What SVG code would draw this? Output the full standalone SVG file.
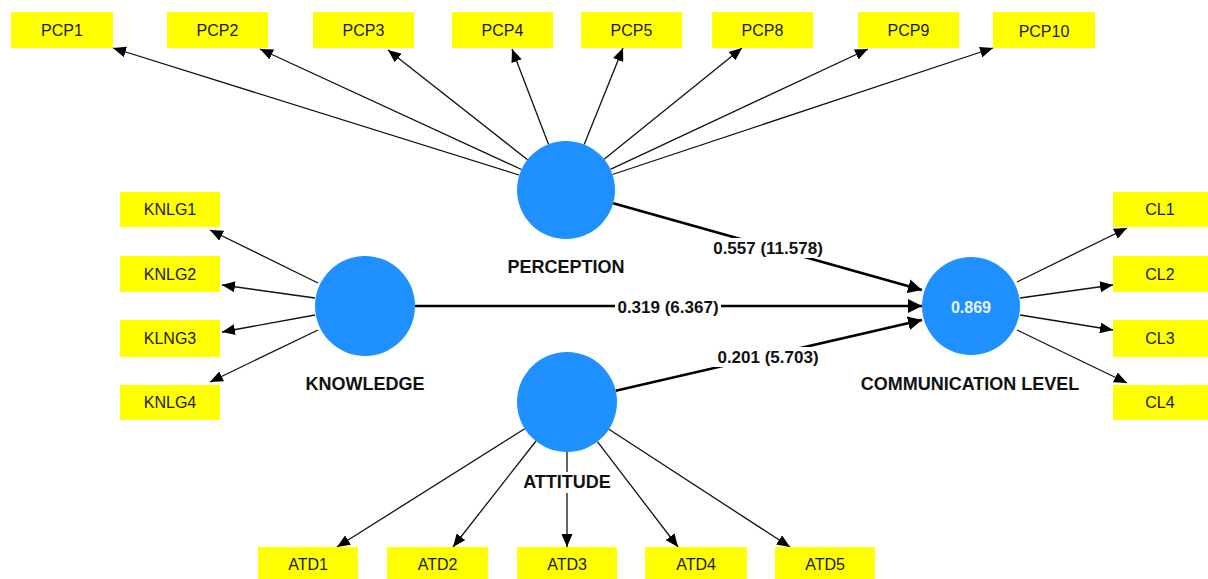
<svg xmlns="http://www.w3.org/2000/svg" width="1208" height="579" viewBox="0 0 1208 579">
<style>
.box{fill:#ffff00}
.bt{font-family:"Liberation Sans",Arial,sans-serif;font-size:16px;fill:#1a1a1a;text-anchor:middle;dominant-baseline:central}
.lv{fill:#1e90ff}
.lt{font-family:"Liberation Sans",Arial,sans-serif;font-size:18px;font-weight:bold;fill:#111;text-anchor:middle;dominant-baseline:central}
.thin{stroke:#111;stroke-width:1.3;fill:none;marker-end:url(#ah)}
.thick{stroke:#000;stroke-width:2.6;fill:none;marker-end:url(#ahb)}
.pl{font-family:"Liberation Sans",Arial,sans-serif;font-size:17px;font-weight:bold;fill:#111;text-anchor:middle;dominant-baseline:central}
.bg{fill:#fff}
</style>
<defs>
<marker id="ah" viewBox="0 0 13 11" refX="13" refY="5.5" markerWidth="13" markerHeight="11" markerUnits="userSpaceOnUse" orient="auto"><path d="M0,0 L13,5.5 L0,11 Z" fill="#000"/></marker>
<marker id="ahb" viewBox="0 0 14 14" refX="14" refY="7" markerWidth="14" markerHeight="14" markerUnits="userSpaceOnUse" orient="auto"><path d="M0,0 L14,7 L0,14 Z" fill="#000"/></marker>
</defs>
<rect width="1208" height="579" fill="#fff"/>
<g id="connectors">
<line class="thin" x1="519" y1="175" x2="113" y2="48"/>
<line class="thin" x1="521.5" y1="169.5" x2="260" y2="49"/>
<line class="thin" x1="527.5" y1="159.7" x2="388" y2="50"/>
<line class="thin" x1="548.5" y1="144.2" x2="512" y2="49"/>
<line class="thin" x1="584.2" y1="144.5" x2="623" y2="48"/>
<line class="thin" x1="604.1" y1="159.2" x2="742" y2="48"/>
<line class="thin" x1="610.4" y1="169.3" x2="868" y2="49"/>
<line class="thin" x1="612.5" y1="174.5" x2="993" y2="48"/>
<line class="thin" x1="318" y1="283" x2="210" y2="230"/>
<line class="thin" x1="315" y1="298" x2="222" y2="285"/>
<line class="thin" x1="315" y1="315" x2="222" y2="332"/>
<line class="thin" x1="318" y1="330" x2="210" y2="382"/>
<line class="thin" x1="1017" y1="282" x2="1127" y2="228"/>
<line class="thin" x1="1020" y1="298" x2="1113" y2="285"/>
<line class="thin" x1="1020" y1="315" x2="1113" y2="330"/>
<line class="thin" x1="1017" y1="330" x2="1127" y2="383"/>
<line class="thin" x1="524.7" y1="428.7" x2="337" y2="547"/>
<line class="thin" x1="536" y1="441" x2="453" y2="547"/>
<line class="thin" x1="567" y1="452" x2="567" y2="547"/>
<line class="thin" x1="597.4" y1="441.7" x2="678" y2="547"/>
<line class="thin" x1="608.9" y1="429.3" x2="790" y2="547"/>
<line class="thick" x1="613.2" y1="203.2" x2="922" y2="290"/>
<line class="thick" x1="415" y1="306" x2="922" y2="306"/>
<line class="thick" x1="615.7" y1="390.7" x2="922" y2="320"/>
<rect class="bg" x="709" y="238" width="118" height="20"/>
<text class="pl" x="768" y="248">0.557 (11.578)</text>
<rect class="bg" x="615" y="297" width="106" height="20"/>
<text class="pl" x="668" y="307">0.319 (6.367)</text>
<rect class="bg" x="714" y="347" width="108" height="20"/>
<text class="pl" x="768" y="357">0.201 (5.703)</text>
</g>
<g id="PCP1"><rect class="box" x="11" y="12" width="102" height="36"/><text class="bt" x="62" y="30">PCP1</text></g>
<g id="PCP2"><rect class="box" x="167" y="12" width="101" height="36"/><text class="bt" x="217.5" y="30">PCP2</text></g>
<g id="PCP3"><rect class="box" x="313" y="12" width="101" height="36"/><text class="bt" x="363.5" y="30">PCP3</text></g>
<g id="PCP4"><rect class="box" x="452" y="12" width="101" height="36"/><text class="bt" x="502.5" y="30">PCP4</text></g>
<g id="PCP5"><rect class="box" x="581" y="12" width="101" height="36"/><text class="bt" x="631.5" y="30">PCP5</text></g>
<g id="PCP8"><rect class="box" x="712" y="12" width="101" height="36"/><text class="bt" x="762.5" y="30">PCP8</text></g>
<g id="PCP9"><rect class="box" x="858" y="12" width="101" height="36"/><text class="bt" x="908.5" y="30">PCP9</text></g>
<g id="PCP10"><rect class="box" x="993" y="12" width="102" height="36"/><text class="bt" x="1044" y="31">PCP10</text></g>
<g id="KNLG1"><rect class="box" x="120" y="192" width="100" height="35"/><text class="bt" x="170" y="209.5">KNLG1</text></g>
<g id="KNLG2"><rect class="box" x="120" y="256" width="100" height="36"/><text class="bt" x="170" y="274">KNLG2</text></g>
<g id="KLNG3"><rect class="box" x="120" y="320" width="100" height="37"/><text class="bt" x="170" y="338.5">KLNG3</text></g>
<g id="KNLG4"><rect class="box" x="120" y="385" width="100" height="35"/><text class="bt" x="170" y="402.5">KNLG4</text></g>
<g id="CL1"><rect class="box" x="1113" y="192" width="95" height="35"/><text class="bt" x="1160" y="209.5">CL1</text></g>
<g id="CL2"><rect class="box" x="1113" y="256" width="95" height="36"/><text class="bt" x="1160" y="274">CL2</text></g>
<g id="CL3"><rect class="box" x="1113" y="320" width="95" height="37"/><text class="bt" x="1160" y="338.5">CL3</text></g>
<g id="CL4"><rect class="box" x="1113" y="385" width="95" height="35"/><text class="bt" x="1160" y="402.5">CL4</text></g>
<g id="ATD1"><rect class="box" x="258" y="547" width="100" height="32"/><text class="bt" x="308" y="564">ATD1</text></g>
<g id="ATD2"><rect class="box" x="387" y="547" width="101" height="32"/><text class="bt" x="437.5" y="564">ATD2</text></g>
<g id="ATD3"><rect class="box" x="517" y="547" width="100" height="32"/><text class="bt" x="567" y="564">ATD3</text></g>
<g id="ATD4"><rect class="box" x="645" y="547" width="102" height="32"/><text class="bt" x="696" y="564">ATD4</text></g>
<g id="ATD5"><rect class="box" x="775" y="547" width="100" height="32"/><text class="bt" x="825" y="564">ATD5</text></g>
<g id="PERCEPTION"><circle class="lv" cx="566" cy="190" r="49"/><text class="lt" x="566" y="267">PERCEPTION</text></g>
<g id="KNOWLEDGE"><circle class="lv" cx="365" cy="306" r="50"/><text class="lt" x="365" y="384">KNOWLEDGE</text></g>
<g id="COMMUNICATION_LEVEL"><circle class="lv" cx="971" cy="306" r="49"/><text x="971" y="307" font-family="Liberation Sans, Arial, sans-serif" font-size="16" font-weight="bold" fill="#eaf4ff" text-anchor="middle" dominant-baseline="central">0.869</text><text class="lt" x="970" y="384">COMMUNICATION LEVEL</text></g>
<g id="ATTITUDE"><circle class="lv" cx="567" cy="402" r="50"/><rect class="bg" x="518" y="472" width="98" height="21"/><text class="lt" x="567" y="482">ATTITUDE</text></g>
</svg>
